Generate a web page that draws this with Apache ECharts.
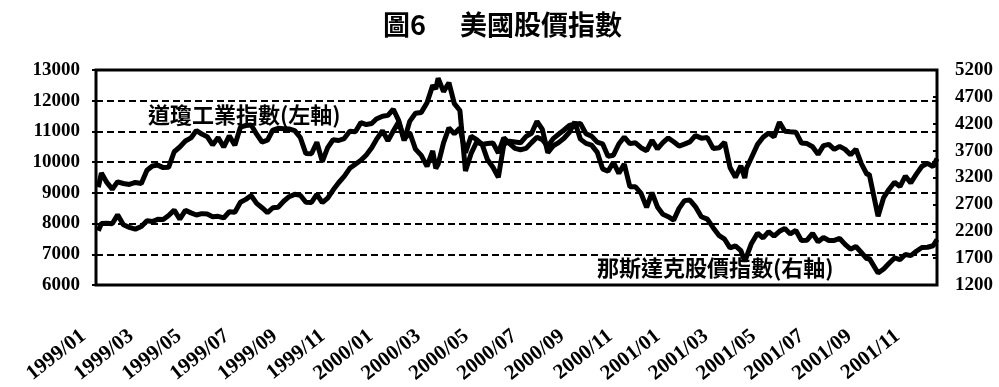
<!DOCTYPE html>
<html>
<head>
<meta charset="utf-8">
<title>美國股價指數</title>
<script src="https://cdn.jsdelivr.net/npm/echarts@6/dist/echarts.min.js"></script>
<style>
  html, body { margin: 0; padding: 0; background: #fff; }
  #chart { width: 999px; height: 387px; }
</style>
</head>
<body>
<div id="chart"></div>
<script>
// 每週收盤 (日期)
const weeks = [
  '1999-01-04','1999-01-08','1999-01-15','1999-01-22','1999-01-29',
  '1999-02-05','1999-02-12','1999-02-19','1999-02-26',
  '1999-03-05','1999-03-12','1999-03-19','1999-03-26',
  '1999-04-02','1999-04-09','1999-04-16','1999-04-23','1999-04-30',
  '1999-05-07','1999-05-14','1999-05-21','1999-05-28',
  '1999-06-04','1999-06-11','1999-06-18','1999-06-25',
  '1999-07-02','1999-07-09','1999-07-16','1999-07-23','1999-07-30',
  '1999-08-06','1999-08-13','1999-08-20','1999-08-27',
  '1999-09-03','1999-09-10','1999-09-17','1999-09-24',
  '1999-10-01','1999-10-08','1999-10-15','1999-10-22','1999-10-29',
  '1999-11-05','1999-11-12','1999-11-19','1999-11-26',
  '1999-12-03','1999-12-10','1999-12-17','1999-12-23','1999-12-31',
  '2000-01-07','2000-01-14','2000-01-21','2000-01-28',
  '2000-02-04','2000-02-11','2000-02-18','2000-02-25',
  '2000-03-03','2000-03-07','2000-03-10','2000-03-17','2000-03-24','2000-03-31',
  '2000-04-07','2000-04-14','2000-04-21','2000-04-28',
  '2000-05-05','2000-05-12','2000-05-19','2000-05-26',
  '2000-06-02','2000-06-09','2000-06-16','2000-06-23','2000-06-30',
  '2000-07-07','2000-07-14','2000-07-21','2000-07-28',
  '2000-08-04','2000-08-11','2000-08-18','2000-08-25',
  '2000-09-01','2000-09-08','2000-09-15','2000-09-22','2000-09-29',
  '2000-10-06','2000-10-13','2000-10-20','2000-10-27',
  '2000-11-03','2000-11-10','2000-11-17','2000-11-24',
  '2000-12-01','2000-12-08','2000-12-15','2000-12-22','2000-12-29',
  '2001-01-05','2001-01-12','2001-01-19','2001-01-26',
  '2001-02-02','2001-02-09','2001-02-16','2001-02-23',
  '2001-03-02','2001-03-09','2001-03-16','2001-03-23','2001-03-30',
  '2001-04-04','2001-04-06','2001-04-12','2001-04-20','2001-04-27',
  '2001-05-04','2001-05-11','2001-05-18','2001-05-25',
  '2001-06-01','2001-06-08','2001-06-15','2001-06-22','2001-06-29',
  '2001-07-06','2001-07-13','2001-07-20','2001-07-27',
  '2001-08-03','2001-08-10','2001-08-17','2001-08-24','2001-08-31',
  '2001-09-07','2001-09-10','2001-09-21','2001-09-28',
  '2001-10-05','2001-10-12','2001-10-19','2001-10-26',
  '2001-11-02','2001-11-09','2001-11-16','2001-11-23','2001-11-30',
  '2001-12-05'
];

// 道瓊工業指數 (左軸)
const dow = [
  9184, 9643, 9340, 9120, 9358,
  9304, 9274, 9340, 9306,
  9736, 9876, 9903, 9822,
  9832, 10339, 10493, 10689, 10789,
  11031, 10913, 10829, 10560,
  10799, 10490, 10855, 10552,
  11139, 11193, 11209, 10911, 10655,
  10714, 11046, 11100, 11090,
  11078, 11028, 10803, 10279,
  10273, 10649, 10019, 10470, 10729,
  10704, 10769, 11003, 10988,
  11286, 11224, 11257, 11405, 11497,
  11522, 11722, 11351, 10739,
  10964, 10425, 10219, 9862,
  10367, 9796, 9929, 10630, 11113, 10922,
  11111, 10305, 10844, 10734,
  10577, 10609, 10626, 10299,
  10794, 10614, 10449, 10404, 10448,
  10636, 10812, 10733, 10511,
  10767, 10908, 11046, 11192,
  11238, 11260, 10927, 10847, 10651,
  10596, 10192, 10226, 10590,
  10817, 10602, 10630, 10470,
  10373, 10712, 10434, 10635, 10787,
  10662, 10525, 10587, 10659,
  10864, 10781, 10799, 10441,
  10466, 10644, 9823, 9504, 9879,
  9485, 9791, 10126, 10579, 10810,
  10951, 10821, 11301, 11005,
  10990, 10977, 10623, 10604, 10502,
  10252, 10539, 10577, 10416,
  10512, 10416, 10240, 10423, 9950,
  9606, 9605, 8236, 8848,
  9120, 9344, 9205, 9545,
  9324, 9608, 9866, 9960, 9852,
  10114
];

// 那斯達克股價指數 (右軸)
const nasdaq = [
  2208, 2344, 2348, 2338, 2505,
  2320, 2273, 2239, 2288,
  2397, 2381, 2421, 2419,
  2493, 2593, 2426, 2590, 2542,
  2503, 2528, 2520, 2471,
  2478, 2447, 2563, 2553,
  2741, 2793, 2864, 2719, 2638,
  2547, 2637, 2648, 2758,
  2843, 2887, 2869, 2740,
  2736, 2886, 2731, 2817, 2966,
  3102, 3221, 3370, 3447,
  3521, 3620, 3753, 3904, 4069,
  3882, 4064, 4235, 3887,
  4244, 4395, 4411, 4590,
  4914, 4847, 5048, 4798, 4963, 4573,
  4446, 3321, 3643, 3860,
  3817, 3529, 3390, 3205,
  3813, 3875, 3860, 3845, 3966,
  4023, 4246, 4094, 3663,
  3787, 3849, 3930, 4042,
  4234, 3914, 3835, 3803, 3673,
  3361, 3317, 3483, 3278,
  3451, 3028, 3028, 2904,
  2645, 2917, 2653, 2517, 2471,
  2407, 2626, 2770, 2781,
  2660, 2470, 2425, 2262,
  2117, 2052, 1890, 1928, 1840,
  1638, 1720, 1961, 2163, 2075,
  2192, 2108, 2199, 2251,
  2150, 2215, 2029, 2034, 2161,
  2004, 2084, 2029, 2030,
  2066, 1956, 1867, 1916, 1805,
  1687, 1695, 1423, 1499,
  1605, 1703, 1671, 1768,
  1746, 1828, 1898, 1903, 1930,
  2046
];

const xTickLabels = [
  '1999/01','1999/03','1999/05','1999/07','1999/09','1999/11',
  '2000/01','2000/03','2000/05','2000/07','2000/09','2000/11',
  '2001/01','2001/03','2001/05','2001/07','2001/09','2001/11'
];
const leftTicks = [6000, 7000, 8000, 9000, 10000, 11000, 12000, 13000];
const rightTicks = [1200, 1700, 2200, 2700, 3200, 3700, 4200, 4700, 5200];

// 1999/01 起算的月數
function monthIndex(s) {
  const [y, m, d] = s.split('-').map(Number);
  const days = new Date(y, m, 0).getDate();
  return (y - 1999) * 12 + (m - 1) + (d - 1) / days;
}

const numFont = 'Liberation Serif';
const cjkFont = 'Noto Sans CJK TC';

const chart = echarts.init(document.getElementById('chart'));

const option = {
  animation: false,
  backgroundColor: '#fff',
  title: [
    {
      text: '圖6', left: 383, top: 11, padding: 0,
      textStyle: { fontFamily: cjkFont, fontSize: 27, fontWeight: 'bold', color: '#000' }
    },
    {
      text: '美國股價指數', left: 460, top: 11, padding: 0,
      textStyle: { fontFamily: cjkFont, fontSize: 27, fontWeight: 'bold', color: '#000' }
    }
  ],
  grid: {
    left: 96,
    right: 62,
    top: 70,
    bottom: 102,
    show: true,
    borderColor: '#000',
    borderWidth: 3,
    backgroundColor: 'transparent'
  },
  xAxis: {
    type: 'value',
    min: 0,
    max: 'dataMax',
    interval: 2,
    axisLine: { show: false },
    axisTick: { show: false },
    splitLine: { show: false },
    axisLabel: {
      rotate: 38,
      margin: 39,
      padding: [0, 16, 0, 0],
      color: '#000',
      fontFamily: numFont,
      fontWeight: 'bold',
      fontSize: 21,
      formatter: function (v) {
        return (v % 2 === 0 && xTickLabels[v / 2]) || '';
      }
    }
  },
  yAxis: [
    {
      type: 'value',
      position: 'left',
      min: leftTicks[0],
      max: leftTicks[leftTicks.length - 1],
      interval: leftTicks[1] - leftTicks[0],
      axisLine: { show: false },
      axisTick: { show: true, length: 4, lineStyle: { color: '#000', width: 2 } },
      splitLine: {
        show: true,
        lineStyle: { color: '#000', width: 2, type: [7, 4] }
      },
      axisLabel: {
        margin: 16,
        color: '#000',
        fontFamily: numFont,
        fontWeight: 'bold',
        fontSize: 19,
        formatter: function (v) { return String(v); }
      }
    },
    {
      type: 'value',
      position: 'right',
      min: rightTicks[0],
      max: rightTicks[rightTicks.length - 1],
      axisLine: { show: false },
      splitLine: { show: false },
      axisTick: {
        show: true,
        inside: true,
        length: 4,
        customValues: rightTicks,
        lineStyle: { color: '#000', width: 2 }
      },
      axisLabel: {
        margin: 18,
        color: '#000',
        fontFamily: numFont,
        fontWeight: 'bold',
        fontSize: 19,
        customValues: rightTicks,
        formatter: function (v) { return String(v); }
      }
    }
  ],
  graphic: [
    {
      type: 'text', left: 148, top: 104, z: 10,
      style: { text: '道瓊工業指數(左軸)', fill: '#000', font: 'bold 22px "Noto Sans CJK TC"' }
    },
    {
      type: 'text', left: 597, top: 257, z: 10,
      style: { text: '那斯達克股價指數(右軸)', fill: '#000', font: 'bold 22px "Noto Sans CJK TC"' }
    }
  ],
  series: [
    {
      name: '道瓊工業指數',
      type: 'line',
      yAxisIndex: 0,
      showSymbol: false,
      data: weeks.map((w, i) => [monthIndex(w), dow[i]]),
      lineStyle: { color: '#000', width: 5 },
      itemStyle: { color: '#000' }
    },
    {
      name: '那斯達克股價指數',
      type: 'line',
      yAxisIndex: 1,
      showSymbol: false,
      data: weeks.map((w, i) => [monthIndex(w), nasdaq[i]]),
      lineStyle: { color: '#000', width: 5 },
      itemStyle: { color: '#000' }
    }
  ]
};

chart.setOption(option);
</script>
</body>
</html>
